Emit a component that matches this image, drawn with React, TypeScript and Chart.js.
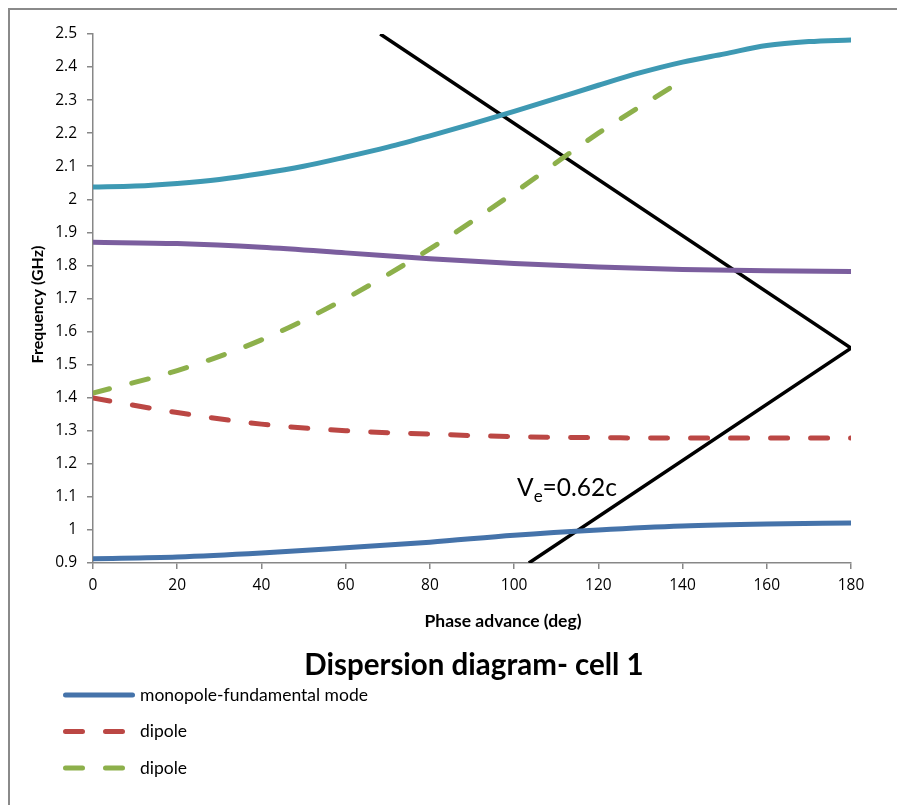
import React, { useEffect, useRef } from "react";
import { Chart, registerables } from "chart.js";

Chart.register(...registerables);

const phaseMono = [0, 20, 40, 60, 80, 100, 120, 140, 160, 180];
const monopole = [0.913, 0.918, 0.93, 0.946, 0.963, 0.984, 1.0, 1.012, 1.018, 1.021];

const phaseDipoleRed = [0, 20, 40, 60, 80, 100, 120, 140, 160, 180];
const dipoleRed = [1.399, 1.355, 1.32, 1.3, 1.29, 1.282, 1.279, 1.278, 1.278, 1.278];

const phaseDipoleGreen = [0, 20, 40, 60, 80, 100, 120, 140];
const dipoleGreen = [1.414, 1.482, 1.575, 1.7, 1.85, 2.02, 2.2, 2.36];

const phasePurple = [0, 20, 40, 60, 80, 100, 120, 140, 160, 180];
const purple = [1.87, 1.866, 1.855, 1.838, 1.82, 1.806, 1.795, 1.788, 1.784, 1.782];

const phaseTeal = [0, 10, 20, 30, 40, 50, 60, 70, 80, 90, 100, 110, 120, 130, 140, 150, 160, 170, 180];
const teal = [2.037, 2.04, 2.048, 2.06, 2.078, 2.1, 2.128, 2.158, 2.192, 2.228, 2.266, 2.305, 2.345, 2.383, 2.415, 2.44, 2.465, 2.477, 2.482];

const phaseLight = [68.2, 180, 103.5];
const lightLine = [2.5, 1.55, 0.9];

const xTicks = [0, 20, 40, 60, 80, 100, 120, 140, 160, 180];
const yTicks = [0.9, 1, 1.1, 1.2, 1.3, 1.4, 1.5, 1.6, 1.7, 1.8, 1.9, 2, 2.1, 2.2, 2.3, 2.4, 2.5];
const yMin = 0.9;
const yMax = 2.5;

const chartTitle = "Dispersion diagram- cell 1";
const xTitle = "Phase advance (deg)";
const yTitle = "Frequency (GHz)";
const legendLabels = ["monopole-fundamental mode", "dipole", "dipole"];
const annotationMain = "V";
const annotationSub = "e";
const annotationRest = "=0.62c";
const annotationAt = { x: 100.7, y: 1.127 };

const FONT = "Lato, 'Open Sans', sans-serif";
const TICK_FONT = "'Open Sans', Lato, sans-serif";

function pts(xs: number[], ys: number[]) {
  return xs.map((x, i) => ({ x, y: ys[i] }));
}

export default function App() {
  const ref = useRef<HTMLCanvasElement | null>(null);

  useEffect(() => {
    if (!ref.current) return;
    const blue = "#4573AA";
    const red = "#BB4744";
    const green = "#8DB04B";
    const violet = "#7B5E9E";
    const cyan = "#3E99B3";

    const overlay = {
      id: "overlay",
      afterDraw(chart: any) {
        const { ctx, chartArea, scales } = chart;
        ctx.save();
        ctx.fillStyle = "#000";
        ctx.textBaseline = "middle";

        // axis titles
        ctx.textAlign = "center";
        ctx.font = `bold 17.5px ${FONT}`;
        ctx.fillText(xTitle, (chartArea.left + chartArea.right) / 2 + 31, chartArea.bottom + 58);
        ctx.save();
        ctx.translate(28, (chartArea.top + chartArea.bottom) / 2 + 6);
        ctx.rotate(-Math.PI / 2);
        ctx.font = `bold 16px ${FONT}`;
        ctx.fillText(yTitle, 0, 0);
        ctx.restore();

        // annotation
        const ax = scales.x.getPixelForValue(annotationAt.x);
        const ay = scales.y.getPixelForValue(annotationAt.y);
        ctx.textAlign = "left";
        ctx.font = `24.5px ${FONT}`;
        ctx.fillText(annotationMain, ax, ay);
        const w1 = ctx.measureText(annotationMain).width;
        ctx.font = `17px ${FONT}`;
        ctx.fillText(annotationSub, ax + w1, ay + 9);
        const w2 = ctx.measureText(annotationSub).width;
        ctx.font = `24.5px ${FONT}`;
        ctx.fillText(annotationRest, ax + w1 + w2, ay);

        // chart title
        const cx = (chartArea.left + chartArea.right) / 2;
        ctx.font = `bold 29.5px ${FONT}`;
        ctx.textAlign = "center";
        ctx.fillText(chartTitle, cx + 2, chartArea.bottom + 102);

        // legend
        ctx.textAlign = "left";
        ctx.font = `17.5px ${FONT}`;
        const ds = chart.data.datasets;
        for (let i = 0; i < legendLabels.length; i++) {
          const d = ds[i];
          const y = chartArea.bottom + 132 + i * 36.5;
          const x0 = 53;
          const x1 = 125;
          ctx.beginPath();
          ctx.strokeStyle = d.borderColor;
          ctx.lineWidth = 5;
          ctx.lineCap = "round";
          ctx.setLineDash(d.borderDash || []);
          ctx.moveTo(x0 + 2.5, y);
          ctx.lineTo(x1 - 2.5, y);
          ctx.stroke();
          ctx.setLineDash([]);
          ctx.fillStyle = "#000";
          ctx.fillText(legendLabels[i], 130, y);
        }
        ctx.restore();
      },
    };

    const chart = new Chart(ref.current, {
      type: "scatter",
      data: {
        datasets: [
          { label: legendLabels[0], data: pts(phaseMono, monopole), borderColor: blue, borderWidth: 5 },
          { label: legendLabels[1], data: pts(phaseDipoleRed, dipoleRed), borderColor: red, borderWidth: 5, borderDash: [17, 23] },
          { label: legendLabels[2], data: pts(phaseDipoleGreen, dipoleGreen), borderColor: green, borderWidth: 5, borderDash: [17, 23] },
          { label: "purple", data: pts(phasePurple, purple), borderColor: violet, borderWidth: 5 },
          { label: "teal", data: pts(phaseTeal, teal), borderColor: cyan, borderWidth: 5 },
          { label: "light", data: pts(phaseLight, lightLine), borderColor: "#000", borderWidth: 3.5 },
        ].map((d: any) => ({
          showLine: true,
          pointRadius: 0,
          pointHoverRadius: 0,
          backgroundColor: d.borderColor,
          cubicInterpolationMode: d.label === "light" ? "default" : "monotone",
          tension: 0,
          borderCapStyle: d.label === "light" ? "butt" : "round",
          borderJoinStyle: "round",
          ...d,
        })) as any,
      },
      options: {
        animation: false,
        responsive: false,
        events: [],
        layout: { padding: { left: 0, right: 46, top: 24, bottom: 0 } },
        plugins: {
          legend: { display: false },
          title: { display: false },
          tooltip: { enabled: false },
        },
        scales: {
          x: {
            type: "linear",
            min: 0,
            max: 180,
            afterBuildTicks(scale: any) {
              scale.ticks = xTicks.map((v) => ({ value: v }));
            },
            afterFit(scale: any) {
              scale.height = 795 - 553;
            },
            grid: { display: true, drawOnChartArea: false, drawTicks: true, tickLength: 6, color: "#878787", lineWidth: 1.5 },
            border: { display: true, color: "#878787", width: 1.5 },
            ticks: { color: "#000", font: { family: TICK_FONT, size: 15.5 }, padding: 7, maxRotation: 0, callback: (v: any) => String(v) },
            title: { display: false },
          },
          y: {
            type: "linear",
            min: yMin,
            max: yMax,
            afterBuildTicks(scale: any) {
              scale.ticks = yTicks.map((v) => ({ value: v }));
            },
            afterFit(scale: any) {
              scale.width = 83;
            },
            grid: { display: true, drawOnChartArea: false, drawTicks: true, tickLength: 6, color: "#878787", lineWidth: 1.5 },
            border: { display: true, color: "#878787", width: 1.5 },
            ticks: { color: "#000", font: { family: TICK_FONT, size: 15.5 }, padding: 10, callback: (v: any) => String(Math.round(v * 10) / 10) },
            title: { display: false },
          },
        },
      } as any,
      plugins: [overlay],
    });
    return () => chart.destroy();
  }, []);

  return (
    <div
      style={{
        position: "fixed",
        left: 8,
        top: 8,
        width: 889,
        height: 797,
        boxSizing: "border-box",
        borderLeft: "2px solid #8a8a8a",
        borderTop: "2px solid #8a8a8a",
        background: "#fff",
        overflow: "hidden",
      }}
    >
      <canvas ref={ref} width={887} height={795} style={{ display: "block", width: 887, height: 795 }} />
    </div>
  );
}
